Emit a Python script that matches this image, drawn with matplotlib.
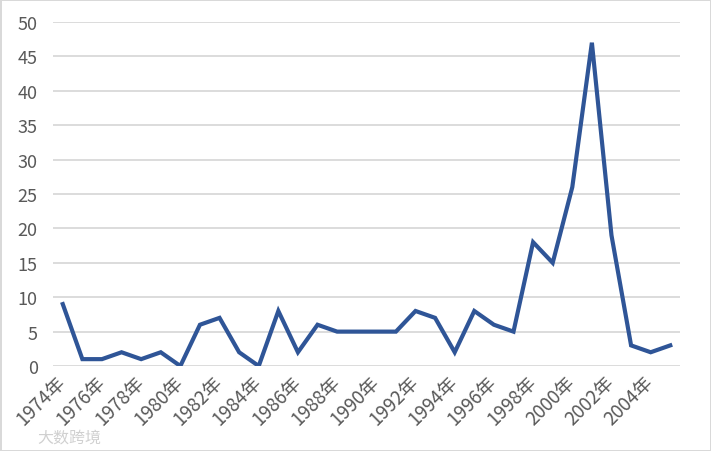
import matplotlib.pyplot as plt
import numpy as np

plt.rcParams['font.family'] = ['Noto Sans CJK SC', 'DejaVu Sans']

years = list(range(1974, 2006))
counts = [9, 1, 1, 2, 1, 2, 0, 6, 7, 2, 0, 8, 2, 6, 5, 5, 5, 5, 8, 7,
          2, 8, 6, 5, 18, 15, 26, 47, 19, 3, 2, 3]
tick_labels = [f"{y}年" for y in years[::2]]

fig = plt.figure(figsize=(7.11, 4.52), dpi=100, edgecolor='#D9D9D9', linewidth=2)
ax = fig.add_axes([0.0745, 0.188, 0.882, 0.761])

x = np.arange(len(years))
ax.plot(x, counts, color='#2F5597', linewidth=3.0, solid_joinstyle='miter')

ax.set_xlim(-0.5, len(years) - 0.5)
ax.set_ylim(0, 50)
ax.set_yticks(range(0, 51, 5))
ax.set_xticks(x[::2])
ax.set_xticklabels(tick_labels, rotation=45, ha='right', va='center',
                   rotation_mode='anchor', fontsize=13.5, fontweight='light')
for lab in ax.get_yticklabels():
    lab.set_fontweight('light')

ax.grid(axis='y', color='#D9D9D9', linewidth=1.3)
ax.set_axisbelow(True)
for s in ax.spines.values():
    s.set_visible(False)
ax.tick_params(axis='both', length=0, colors='#595959')
ax.tick_params(axis='y', pad=11, labelsize=13)
ax.tick_params(axis='x', pad=9)

# watermark in the bottom-left corner
fig.text(0.053, 0.022, "大数跨境", fontsize=11.5, color='#D0D0D0')

fig.savefig('out.png', dpi=100)
